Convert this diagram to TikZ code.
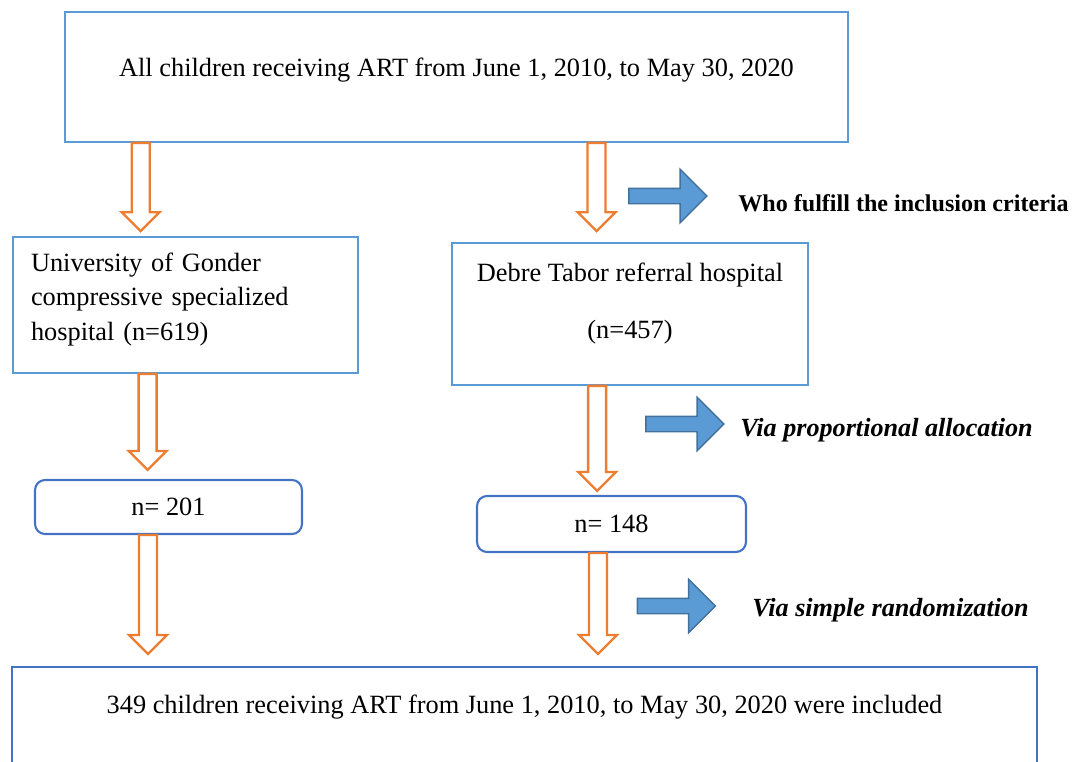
\documentclass[tikz,border=0pt]{standalone}
\usepackage{fontspec}
\setmainfont{Liberation Serif}
\usetikzlibrary{calc}
\usetikzlibrary{shapes.arrows}

\definecolor{boxblue}{RGB}{91,155,213}
\definecolor{roundblue}{RGB}{68,114,196}
\definecolor{floworange}{RGB}{237,125,49}
\definecolor{pointedge}{RGB}{65,113,156}

\tikzset{
  box/.style={draw=boxblue, line width=1pt, inner sep=0pt, font=\fontsize{15}{19.6}\selectfont},
  roundbox/.style={draw=roundblue, line width=1.2pt, rounded corners=0.2cm, inner sep=0pt, font=\fontsize{15}{19.6}\selectfont},
  hollow/.style={draw=floworange, line width=1.3pt, fill=white},
  pointer/.style={single arrow, draw=pointedge, fill=boxblue, line width=0.8pt, inner xsep=0pt, inner ysep=0.14cm,
    minimum height=1.56cm, single arrow head extend=0.38cm},
  note/.style={anchor=west, inner sep=0pt, font=\fontsize{14.9}{17}\selectfont\bfseries}
}

\newcommand{\hollowarrow}[2]{%
  \draw[hollow] let \p1=(#1), \p2=(#2) in
    (\x1-0.18cm,\y1) -- (\x1-0.18cm,\y2+0.38cm) -- (\x1-0.38cm,\y2+0.38cm) -- (\x1,\y2)
    -- (\x1+0.38cm,\y2+0.38cm) -- (\x1+0.18cm,\y2+0.38cm) -- (\x1+0.18cm,\y1) -- cycle;}

\begin{document}
\begin{tikzpicture}[x=0.02cm,y=-0.02cm]
  \useasboundingbox (0,0) rectangle (1075,761);
  \node (all) [box, minimum width=15.66cm, minimum height=2.6cm, text height=10pt, text depth=10.6pt] at (456.5,77)
    {All children receiving ART from June 1, 2010, to May 30, 2020};
  \node (gonder) [box, minimum width=6.9cm, minimum height=2.72cm, inner xsep=0.36cm, text width=6.18cm, align=left, text height=10pt, text depth=48.3pt] at (185.5,305)
    {University of Gonder\\compressive specialized\\hospital (n=619)};
  \node (debre) [box, minimum width=7.12cm, minimum height=2.84cm, align=center, text depth=15.2pt] at (630,314)
    {Debre Tabor referral hospital\\[12.8pt](n=457)};
  \node (gondern) [roundbox, minimum width=5.34cm, minimum height=1.08cm] at (168.5,507) {n= 201};
  \node (deben) [roundbox, minimum width=5.38cm, minimum height=1.12cm] at (611.5,524) {n= 148};
  \node (included) [box, draw=roundblue, anchor=north, minimum width=20.5cm, minimum height=2.8cm, text height=10pt, text depth=36.2pt] at (524.5,666)
    {349 children receiving ART from June 1, 2010, to May 30, 2020 were included};

  \node (criteria) [pointer] at (664,196) {};
  \node (allocation) [pointer] at (681,424) {};
  \node (random) [pointer] at (672.5,606) {};
  \node (criterianote) [note, font=\fontsize{13.7}{17}\selectfont\bfseries] at (738,203) {Who fulfill the inclusion criteria};
  \node (allocationnote) [note] at (740,430) {\itshape Via proportional allocation};
  \node (randomnote) [note] at (752,610) {\itshape Via simple randomization};

  \hollowarrow{[xshift=1.53cm]all.south west}{[yshift=0.1cm]gonder.north}
  \hollowarrow{[xshift=10.65cm]all.south west}{[yshift=0.22cm]debre.north}
  \hollowarrow{[xshift=2.71cm]gonder.south west}{[yshift=0.18cm]gondern.north}
  \hollowarrow{[xshift=2.92cm]debre.south west}{[yshift=0.08cm]deben.north}
  \hollowarrow{[xshift=2.28cm]gondern.south west}{[yshift=0.24cm]included.north}
  \hollowarrow{[xshift=2.44cm]deben.south west}{[yshift=0.24cm]included.north}
\end{tikzpicture}
\end{document}
